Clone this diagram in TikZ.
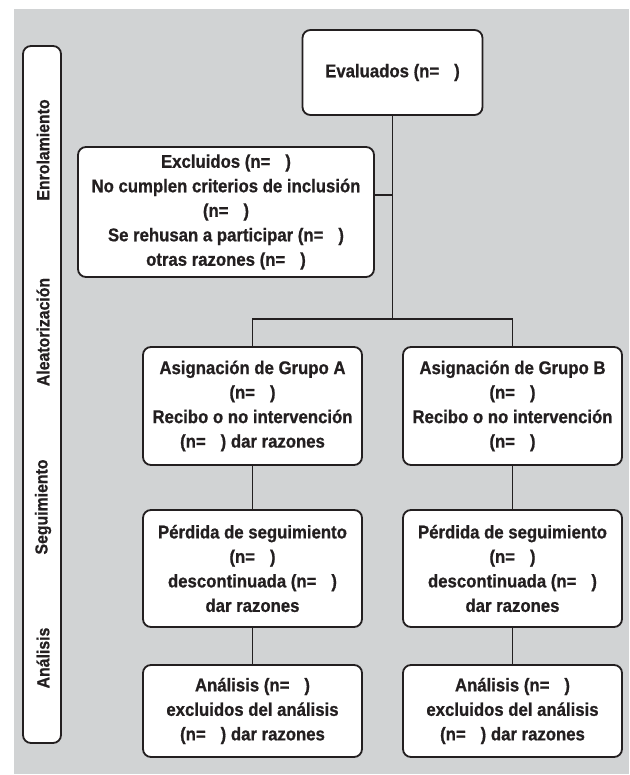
\documentclass[tikz,border=0pt]{standalone}
\usepackage{fontspec}
\setmainfont[FakeStretch=0.91, BoldFeatures={FakeBold=0.8}]{Liberation Sans}
\definecolor{bggrey}{RGB}{209,211,212}
\definecolor{ink}{RGB}{35,31,32}
\newcommand{\nn}{(n=\hspace{15pt})}
\begin{document}
\begin{tikzpicture}[x=1pt,y=-1pt,
  box/.style={draw=ink, line width=1.8pt, fill=white, rounded corners=8pt,
    inner sep=0pt, align=center, text=ink,
    font=\bfseries\fontsize{18.4}{24.5}\selectfont},
  lab/.style={inner sep=0pt, text=ink, rotate=90,
    font=\bfseries\fontsize{17.4}{18}\selectfont},
  conn/.style={draw=ink, line width=1.4pt}]
\useasboundingbox (0,0) rectangle (629,775);
\fill[white] (0,0) rectangle (629,775);
\fill[bggrey] (14,9) rectangle (629,774);
% side bar
\node[box, minimum width=38pt, minimum height=697pt] (side) at (42,394.5) {};
\node[lab] (l1) at (43,150) {Enrolamiento};
\node[lab] (l2) at (43,332) {Aleatorización};
\node[lab] (l3) at (43,507) {Seguimiento};
\node[lab] (l4) at (43,658) {Análisis};
% boxes
\node[box, minimum width=180pt, minimum height=85pt] (eval) at (392.5,72.5) {Evaluados \nn};
\node[box, minimum width=296pt, minimum height=130pt] (excl) at (226,212)
  {Excluidos \nn\\No cumplen criterios de inclusión\\\nn\\Se rehusan a participar \nn\\otras razones \nn};
\node[box, minimum width=219pt, minimum height=118pt] (ga) at (252.5,406)
  {Asignación de Grupo A\\\nn\\Recibo o no intervención\\\nn{} dar razones};
\node[box, minimum width=219pt, minimum height=118pt] (gb) at (512.5,406)
  {Asignación de Grupo B\\\nn\\Recibo o no intervención\\\nn};
\node[box, minimum width=219pt, minimum height=117pt] (pa) at (252.5,568.5)
  {Pérdida de seguimiento\\\nn\\descontinuada \nn\\dar razones};
\node[box, minimum width=219pt, minimum height=117pt] (pb) at (512.5,568.5)
  {Pérdida de seguimiento\\\nn\\descontinuada \nn\\dar razones};
\node[box, minimum width=219pt, minimum height=92pt] (aa) at (252.5,711)
  {Análisis \nn\\excluidos del análisis\\\nn{} dar razones};
\node[box, minimum width=219pt, minimum height=92pt] (ab) at (512.5,711)
  {Análisis \nn\\excluidos del análisis\\\nn{} dar razones};
% connectors
\coordinate (split) at (392.5,319);
\coordinate (exclout) at ([yshift=17pt]excl.east);
\draw[conn] (eval.south) -- (split);
\draw[conn] (exclout) -- (exclout -| eval.south);
\draw[conn] (ga.north) |- (split) -| (gb.north);
\draw[conn] (ga.south) -- (pa.north);
\draw[conn] (gb.south) -- (pb.north);
\draw[conn] (pa.south) -- (aa.north);
\draw[conn] (pb.south) -- (ab.north);
\end{tikzpicture}
\end{document}
